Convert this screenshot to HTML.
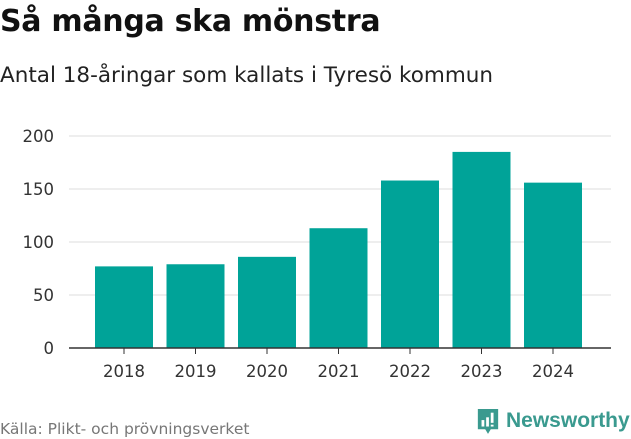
<!DOCTYPE html>
<html><head><meta charset="utf-8"><style>
body{margin:0;width:631px;height:439px;background:#fff;font-family:"DejaVu Sans","Liberation Sans",sans-serif;overflow:hidden;position:relative}
#t{position:absolute;left:0;top:4px;font-size:30px;font-weight:bold;color:#111;letter-spacing:-0.3px;white-space:nowrap}
#s{position:absolute;left:0;top:63px;font-size:21.5px;color:#222;white-space:nowrap}
#src{position:absolute;left:0;top:420px;font-size:15.5px;color:#777;white-space:nowrap}
#logo{position:absolute;left:476px;top:406px;font-size:21px;color:#3a9a8f;font-weight:bold;white-space:nowrap;width:160px;font-family:"Liberation Sans",sans-serif}
svg{position:absolute;left:0;top:0}
</style></head><body>
<div id="t">Så många ska mönstra</div>
<div id="s">Antal 18-åringar som kallats i Tyresö kommun</div>
<svg id="c" width="631" height="439"></svg>
<div id="src">Källa: Plikt- och prövningsverket</div>
<div id="logo"><svg width="24" height="30" viewBox="0 0 26 30" style="position:relative;display:inline-block;vertical-align:middle;margin-right:6px"><path d="M2 2h22v22H16l-3 5-3-5H2z" fill="#3a9a8f"/><rect x="6" y="14" width="3" height="7" fill="#fff"/><rect x="11" y="11" width="3" height="10" fill="#fff"/><rect x="16" y="6" width="3" height="11" fill="#fff"/><rect x="16" y="19" width="3" height="2" fill="#fff"/></svg><span style="vertical-align:middle">Newsworthy</span></div>
<script>
const categories=["2018","2019","2020","2021","2022","2023","2024"];
const values=[77,79,86,113,158,185,156];
const yTicks=[0,50,100,150,200];
const ns="http://www.w3.org/2000/svg",svg=document.getElementById('c');
const x0=69,x1=611,y0=348,ppu=1.06;
const y=v=>y0-v*ppu;
const bx=i=>124+i*71.5;
function mk(t,a){const e=document.createElementNS(ns,t);for(const k in a)e.setAttribute(k,a[k]);svg.appendChild(e);return e;}
yTicks.forEach(v=>{
 if(v>0){const g=mk('line',{x1:x0,x2:x1,y1:y(v),y2:y(v),stroke:'#ddd','stroke-width':1});
 
 }
 const t=mk('text',{x:54,y:y(v)+6,'text-anchor':'end','font-size':16.5,fill:'#333'});t.textContent=v;
 
 
});
categories.forEach((c,i)=>{
 const r=mk('rect',{x:bx(i)-29,y:y(values[i]),width:58,height:values[i]*ppu,fill:'#00a398'});
 
 
 const tk=mk('line',{x1:bx(i),x2:bx(i),y1:y0,y2:y0+6,stroke:'#333','stroke-width':1});
 
 
 const t=mk('text',{x:bx(i),y:377,'text-anchor':'middle','font-size':16.5,fill:'#333'});t.textContent=c;
 
 
});
const ax=mk('line',{x1:x0,x2:x1,y1:y0,y2:y0,stroke:'#333','stroke-width':1.5});


</script>
</body></html>
